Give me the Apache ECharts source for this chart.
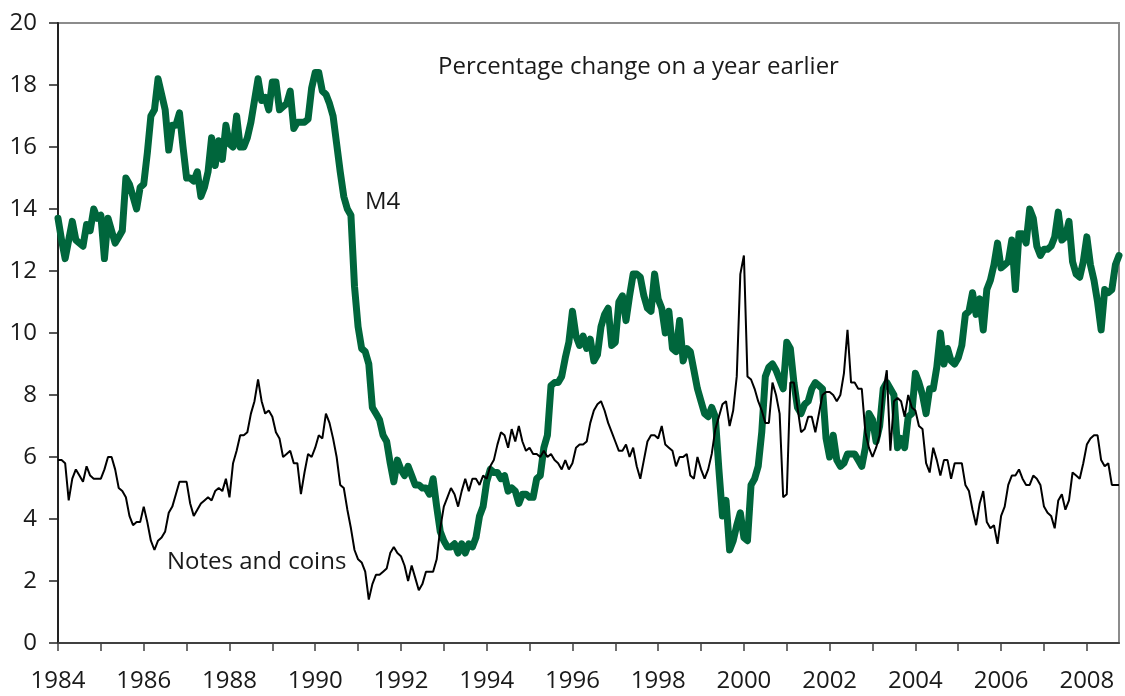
<!DOCTYPE html>
<html lang="en">
<head>
    <meta charset="UTF-8">
    <title>M4 and notes and coins</title>
    <script src="https://cdn.jsdelivr.net/npm/echarts@6/dist/echarts.min.js"></script>
    <style type="text/css">
        *{
            padding: 0px;
            margin: 0px;
            border: 0px;
        }
        #chart{
            width: 1125px;
            height: 696px;
            background: #fff;
        }
    </style>
</head>
<body>
<div id="chart"></div>
<script>
    // monthly data, Jan 1984 .. Oct 2008
    var startYear = 1984;

    var m4 = [
        13.7, 13.0, 12.4, 13.0, 13.6, 13.0, 12.9, 12.8, 13.5, 13.3, 14.0, 13.7,
        13.8, 12.4, 13.7, 13.3, 12.9, 13.1, 13.3, 15.0, 14.8, 14.4, 14.0, 14.7,
        14.8, 15.8, 17.0, 17.2, 18.2, 17.7, 17.2, 15.9, 16.7, 16.7, 17.1, 16.0,
        15.0, 15.0, 14.9, 15.2, 14.4, 14.7, 15.2, 16.3, 15.4, 16.2, 15.6, 16.7,
        16.1, 16.0, 17.0, 16.0, 16.0, 16.3, 16.8, 17.5, 18.2, 17.5, 17.6, 17.2,
        18.1, 18.1, 17.2, 17.3, 17.4, 17.8, 16.6, 16.8, 16.8, 16.8, 16.9, 17.9,
        18.4, 18.4, 17.8, 17.7, 17.4, 17.0, 16.1, 15.2, 14.4, 14.0, 13.8, 11.5,
        10.2, 9.5, 9.4, 9.0, 7.6, 7.4, 7.2, 6.7, 6.5, 5.8, 5.2, 5.9,
        5.6, 5.4, 5.7, 5.4, 5.1, 5.1, 5.0, 5.0, 4.8, 5.3, 4.4, 3.6,
        3.3, 3.1, 3.1, 3.2, 2.9, 3.2, 2.9, 3.2, 3.1, 3.4, 4.1, 4.4,
        5.2, 5.6, 5.5, 5.5, 5.3, 5.4, 4.9, 5.0, 4.9, 4.5, 4.8, 4.8,
        4.7, 4.7, 5.3, 5.4, 6.3, 6.7, 8.3, 8.4, 8.4, 8.6, 9.2, 9.7,
        10.7, 9.9, 9.6, 9.9, 9.5, 9.8, 9.1, 9.3, 10.2, 10.6, 10.8, 9.6,
        9.7, 11.0, 11.2, 10.4, 11.2, 11.9, 11.9, 11.8, 11.2, 10.8, 10.7, 11.9,
        11.1, 10.8, 10.0, 10.7, 9.5, 9.4, 10.4, 9.1, 9.5, 9.4, 8.8, 8.2,
        7.8, 7.4, 7.3, 7.6, 7.3, 5.6, 4.1, 4.6, 3.0, 3.3, 3.8, 4.2,
        3.4, 3.3, 5.1, 5.3, 5.7, 6.8, 8.6, 8.9, 9.0, 8.8, 8.5, 8.2,
        9.7, 9.5, 8.4, 7.6, 7.4, 7.7, 7.8, 8.2, 8.4, 8.3, 8.2, 6.6,
        6.0, 6.7, 5.9, 5.7, 5.8, 6.1, 6.1, 6.1, 5.9, 5.7, 6.3, 7.4,
        7.2, 6.5, 7.0, 8.2, 8.4, 8.2, 8.0, 6.3, 6.6, 6.3, 7.3, 7.4,
        8.7, 8.4, 8.0, 7.4, 8.2, 8.2, 8.9, 10.0, 9.0, 9.5, 9.1, 9.0,
        9.2, 9.6, 10.6, 10.7, 11.3, 10.6, 11.1, 10.1, 11.4, 11.7, 12.2, 12.9,
        12.1, 12.2, 12.3, 13.0, 11.4, 13.2, 13.2, 12.9, 14.0, 13.7, 12.8, 12.5,
        12.7, 12.7, 12.8, 13.1, 13.9, 13.0, 13.1, 13.6, 12.3, 11.9, 11.8, 12.3,
        13.1, 12.2, 11.7, 11.0, 10.1, 11.4, 11.3, 11.4, 12.2, 12.5
    ];

    var notesCoins = [
        5.9, 5.9, 5.8, 4.6, 5.3, 5.6, 5.4, 5.2, 5.7, 5.4, 5.3, 5.3,
        5.3, 5.6, 6.0, 6.0, 5.6, 5.0, 4.9, 4.7, 4.1, 3.8, 3.9, 3.9,
        4.4, 3.9, 3.3, 3.0, 3.3, 3.4, 3.6, 4.2, 4.4, 4.8, 5.2, 5.2,
        5.2, 4.5, 4.1, 4.3, 4.5, 4.6, 4.7, 4.6, 4.9, 5.0, 4.9, 5.3,
        4.7, 5.8, 6.2, 6.7, 6.7, 6.8, 7.4, 7.8, 8.5, 7.8, 7.4, 7.5,
        7.3, 6.8, 6.6, 6.0, 6.1, 6.2, 5.8, 5.8, 4.8, 5.5, 6.1, 6.0,
        6.3, 6.7, 6.6, 7.4, 7.1, 6.6, 6.0, 5.1, 5.0, 4.3, 3.7, 3.0,
        2.7, 2.6, 2.3, 1.4, 1.9, 2.2, 2.2, 2.3, 2.4, 2.9, 3.1, 2.9,
        2.8, 2.5, 2.0, 2.5, 2.1, 1.7, 1.9, 2.3, 2.3, 2.3, 2.7, 3.7,
        4.4, 4.7, 5.0, 4.8, 4.4, 4.9, 5.3, 4.9, 5.3, 5.3, 5.1, 5.4,
        5.3, 5.7, 5.9, 6.4, 6.8, 6.7, 6.3, 6.9, 6.5, 7.0, 6.5, 6.2,
        6.3, 6.1, 6.1, 6.0, 6.2, 6.0, 6.1, 5.9, 5.8, 5.6, 5.9, 5.6,
        5.8, 6.3, 6.4, 6.4, 6.5, 7.1, 7.5, 7.7, 7.8, 7.5, 7.1, 6.8,
        6.5, 6.2, 6.2, 6.4, 6.0, 6.3, 5.7, 5.3, 5.9, 6.5, 6.7, 6.7,
        6.6, 7.0, 6.4, 6.3, 6.2, 5.7, 6.0, 6.0, 6.1, 5.4, 5.3, 6.0,
        5.6, 5.3, 5.6, 6.1, 6.9, 7.3, 7.7, 7.8, 7.0, 7.5, 8.6, 11.9,
        12.5, 8.6, 8.5, 8.2, 7.8, 7.5, 7.1, 7.1, 8.4, 8.0, 7.4, 4.7,
        4.8, 8.4, 8.4, 7.6, 6.8, 6.9, 7.3, 7.3, 6.8, 7.4, 8.0, 8.1,
        8.1, 8.0, 7.8, 8.0, 8.7, 10.1, 8.4, 8.4, 8.2, 8.2, 6.8, 6.3,
        6.0, 6.3, 6.7, 8.1, 8.8, 6.2, 7.8, 7.9, 7.8, 7.3, 8.0, 7.6,
        7.5, 7.0, 6.9, 5.8, 5.5, 6.3, 5.9, 5.4, 5.9, 5.9, 5.3, 5.8,
        5.8, 5.8, 5.1, 4.9, 4.3, 3.8, 4.5, 4.9, 3.9, 3.7, 3.8, 3.2,
        4.1, 4.4, 5.1, 5.4, 5.4, 5.6, 5.3, 5.1, 5.1, 5.4, 5.3, 5.1,
        4.4, 4.2, 4.1, 3.7, 4.6, 4.8, 4.3, 4.6, 5.5, 5.4, 5.3, 5.8,
        6.4, 6.6, 6.7, 6.7, 5.9, 5.7, 5.8, 5.1, 5.1, 5.1
    ];

    var yTicks = [0, 2, 4, 6, 8, 10, 12, 14, 16, 18, 20];

    // pair each value with its month as a decimal year
    function toPoints(values) {
        return values.map(function (v, i) {
            return [startYear + i / 12, v];
        });
    }

    var endYear = startYear + (m4.length - 1) / 12;
    var font = '"Open Sans", "Noto Sans", sans-serif';

    var chart = echarts.init(document.getElementById('chart'));
    chart.setOption({
        animation: false,
        backgroundColor: '#fff',
        grid: {
            left: 58,
            right: 6,
            top: 23,
            bottom: 53,
            show: true,
            borderColor: '#8c8c8c',
            borderWidth: 2,
            backgroundColor: 'transparent'
        },
        xAxis: {
            type: 'value',
            min: startYear,
            max: endYear,
            interval: 1,
            splitLine: { show: false },
            axisLine: { show: true, lineStyle: { color: '#404040', width: 2 } },
            axisTick: { show: true, length: 8, lineStyle: { color: '#404040', width: 1.5 } },
            axisLabel: {
                showMaxLabel: false,
                margin: 26,
                fontSize: 24,
                fontFamily: font,
                color: '#1a1a1a',
                formatter: function (v) {
                    return v % 2 === 0 ? String(v) : '';
                }
            }
        },
        yAxis: {
            type: 'value',
            min: yTicks[0],
            max: yTicks[yTicks.length - 1],
            interval: 2,
            splitLine: { show: false },
            axisLine: { show: true, lineStyle: { color: '#222', width: 2 } },
            axisTick: { show: true, length: 9, lineStyle: { color: '#222', width: 1.5 } },
            axisLabel: {
                margin: 21,
                fontSize: 24,
                fontFamily: font,
                color: '#1a1a1a'
            }
        },
        graphic: [
            {
                type: 'text', left: 438, top: 55,
                style: { text: 'Percentage change on a year earlier', font: '24px ' + font, fill: '#1a1a1a' }
            },
            {
                type: 'text', left: 365, top: 190,
                style: { text: 'M4', font: '24px ' + font, fill: '#1a1a1a' }
            },
            {
                type: 'text', left: 167, top: 550,
                style: { text: 'Notes and coins', font: '24px ' + font, fill: '#1a1a1a' }
            }
        ],
        series: [
            {
                name: 'Notes and coins',
                type: 'line',
                data: toPoints(notesCoins),
                showSymbol: false,
                lineStyle: { color: '#000', width: 2 },
                z: 3
            },
            {
                name: 'M4',
                type: 'line',
                data: toPoints(m4),
                showSymbol: false,
                lineStyle: { color: '#00663c', width: 7, join: 'round', cap: 'round' },
                z: 2
            }
        ]
    });
</script>
</body>
</html>
